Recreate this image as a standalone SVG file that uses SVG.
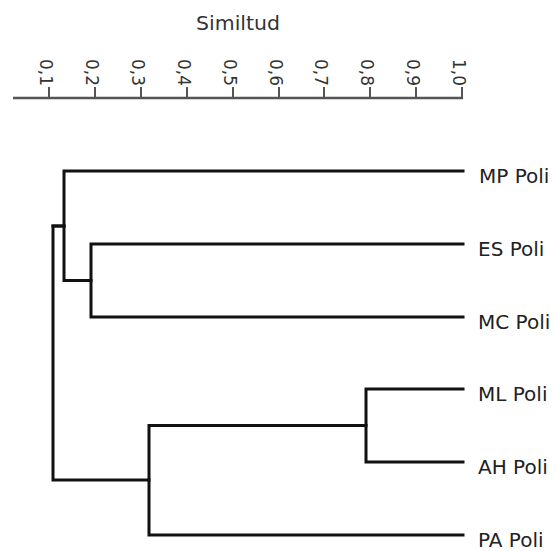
<svg xmlns="http://www.w3.org/2000/svg" width="556" height="551" viewBox="0 0 556 551">
<style>
.bg{fill:#ffffff}
.axis{stroke:#555555;stroke-width:2.5;fill:none}
.tick{stroke:#555555;stroke-width:2;fill:none}
.tl{font-family:"DejaVu Sans","Liberation Sans",sans-serif;font-size:17px;fill:#333333;text-anchor:end}
.title{font-family:"DejaVu Sans","Liberation Sans",sans-serif;font-size:20px;fill:#333333}
.edge{stroke:#111111;stroke-width:3;fill:none;stroke-linecap:square;stroke-linejoin:miter}
.lbl{font-family:"DejaVu Sans","Liberation Sans",sans-serif;font-size:20px;fill:#222222}
</style>
<rect class="bg" x="0" y="0" width="556" height="551"/>
<g id="scale">
<text class="title" x="196" y="30" textLength="84" lengthAdjust="spacingAndGlyphs">Similtud</text>
<path class="axis" d="M13 98 H463"/>
<path class="tick" d="M49 87 V98 M95 87 V98 M141 87 V98 M187 87 V98 M233 87 V98 M279 87 V98 M324 87 V98 M370 87 V98 M416 87 V98 M462 87 V98"/>
<text class="tl" transform="translate(40 86) rotate(90)">0,1</text>
<text class="tl" transform="translate(86 86) rotate(90)">0,2</text>
<text class="tl" transform="translate(132 86) rotate(90)">0,3</text>
<text class="tl" transform="translate(178 86) rotate(90)">0,4</text>
<text class="tl" transform="translate(224 86) rotate(90)">0,5</text>
<text class="tl" transform="translate(270 86) rotate(90)">0,6</text>
<text class="tl" transform="translate(315 86) rotate(90)">0,7</text>
<text class="tl" transform="translate(361 86) rotate(90)">0,8</text>
<text class="tl" transform="translate(407 86) rotate(90)">0,9</text>
<text class="tl" transform="translate(453 86) rotate(90)">1,0</text>
</g>
<g id="connectors">
<path class="edge" d="M463 171 H64 V280.5 H91"/>
<path class="edge" d="M463 244 H91 V317 H463"/>
<path class="edge" d="M53 226 H64"/>
<path class="edge" d="M463 389 H366 V462 H463"/>
<path class="edge" d="M366 425.5 H149 V535 H463"/>
<path class="edge" d="M64 226 H53 V480 H149"/>
</g>
<g id="MP"><text class="lbl" x="479" y="183">MP Poli</text></g>
<g id="ES"><text class="lbl" x="478" y="256">ES Poli</text></g>
<g id="MC"><text class="lbl" x="478" y="329">MC Poli</text></g>
<g id="ML"><text class="lbl" x="478" y="401">ML Poli</text></g>
<g id="AH"><text class="lbl" x="478" y="474">AH Poli</text></g>
<g id="PA"><text class="lbl" x="478" y="547">PA Poli</text></g>
</svg>
